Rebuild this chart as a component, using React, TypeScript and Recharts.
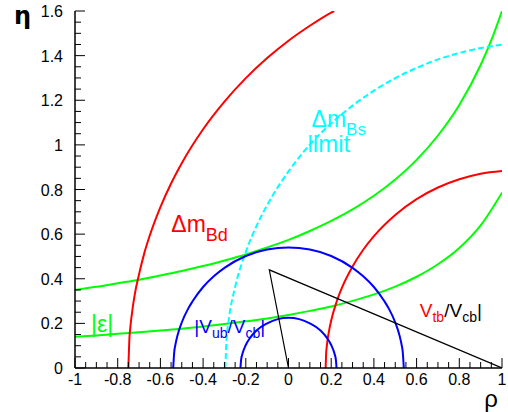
import React from 'react';
import { LineChart, Line, XAxis, YAxis, ReferenceDot } from 'recharts';

const FONT = "'Liberation Sans', Arial, Helvetica, sans-serif";

// Tick values and labels
const xMajorTicks = [-1, -0.8, -0.6, -0.4, -0.2, 0, 0.2, 0.4, 0.6, 0.8, 1];
const xTickLabels = ['-1', '-0.8', '-0.6', '-0.4', '-0.2', '0', '0.2', '0.4', '0.6', '0.8', '1'];
const yMajorTicks = [0, 0.2, 0.4, 0.6, 0.8, 1, 1.2, 1.4, 1.6];
const yTickLabels = ['0', '0.2', '0.4', '0.6', '0.8', '1', '1.2', '1.4', '1.6'];
const xTicks = Array.from({ length: 41 }, (_, i) => Math.round((-1 + i * 0.05) * 100) / 100);
const yTicks = Array.from({ length: 33 }, (_, i) => Math.round(i * 0.05 * 100) / 100);

// |epsilon| band (green)
const epsLower = [
  { x: -1, y: 0.14 }, { x: -0.9, y: 0.146 }, { x: -0.8, y: 0.153 }, { x: -0.7, y: 0.16 },
  { x: -0.6, y: 0.168 }, { x: -0.5, y: 0.176 }, { x: -0.4, y: 0.186 }, { x: -0.3, y: 0.197 },
  { x: -0.2, y: 0.209 }, { x: -0.1, y: 0.222 }, { x: 0, y: 0.238 }, { x: 0.1, y: 0.256 },
  { x: 0.2, y: 0.276 }, { x: 0.3, y: 0.301 }, { x: 0.4, y: 0.33 }, { x: 0.5, y: 0.365 },
  { x: 0.6, y: 0.409 }, { x: 0.7, y: 0.465 }, { x: 0.8, y: 0.538 }, { x: 0.9, y: 0.639 },
  { x: 1, y: 0.786 },
];
const epsUpper = [
  { x: -1, y: 0.35 }, { x: -0.9, y: 0.364 }, { x: -0.8, y: 0.38 }, { x: -0.7, y: 0.396 },
  { x: -0.6, y: 0.415 }, { x: -0.5, y: 0.435 }, { x: -0.4, y: 0.457 }, { x: -0.3, y: 0.482 },
  { x: -0.2, y: 0.509 }, { x: -0.1, y: 0.54 }, { x: 0, y: 0.574 }, { x: 0.1, y: 0.614 },
  { x: 0.2, y: 0.659 }, { x: 0.3, y: 0.711 }, { x: 0.4, y: 0.772 }, { x: 0.5, y: 0.845 },
  { x: 0.6, y: 0.933 }, { x: 0.7, y: 1.042 }, { x: 0.8, y: 1.179 }, { x: 0.9, y: 1.358 },
  { x: 0.95, y: 1.469 }, { x: 1, y: 1.6 },
];

// Delta m_Bd (red)
const dmBdOuter = [
  { x: -0.75, y: 0 }, { x: -0.745, y: 0.134 }, { x: -0.74, y: 0.19 }, { x: -0.73, y: 0.268 },
  { x: -0.72, y: 0.33 }, { x: -0.7, y: 0.42 }, { x: -0.675, y: 0.516 }, { x: -0.65, y: 0.593 },
  { x: -0.6, y: 0.721 }, { x: -0.55, y: 0.827 }, { x: -0.5, y: 0.918 }, { x: -0.4, y: 1.07 },
  { x: -0.3, y: 1.194 }, { x: -0.2, y: 1.299 }, { x: -0.1, y: 1.389 }, { x: 0, y: 1.467 },
  { x: 0.1, y: 1.534 }, { x: 0.2, y: 1.593 }, { x: 0.214, y: 1.6 },
];
const dmBdInner = [
  { x: 0.174, y: 0 }, { x: 0.176, y: 0.059 }, { x: 0.18, y: 0.103 }, { x: 0.19, y: 0.167 },
  { x: 0.2, y: 0.213 }, { x: 0.225, y: 0.296 }, { x: 0.25, y: 0.359 }, { x: 0.3, y: 0.455 },
  { x: 0.35, y: 0.53 }, { x: 0.4, y: 0.591 }, { x: 0.5, y: 0.686 }, { x: 0.6, y: 0.757 },
  { x: 0.7, y: 0.809 }, { x: 0.8, y: 0.846 }, { x: 0.9, y: 0.871 }, { x: 1, y: 0.883 },
];

// Delta m_Bs limit (cyan, dashed)
const dmBsLimit = [
  { x: -0.296, y: 0 }, { x: -0.29, y: 0.13 }, { x: -0.28, y: 0.215 }, { x: -0.25, y: 0.363 },
  { x: -0.2, y: 0.52 }, { x: -0.15, y: 0.636 }, { x: -0.1, y: 0.73 }, { x: 0, y: 0.881 },
  { x: 0.1, y: 1.001 }, { x: 0.2, y: 1.096 }, { x: 0.3, y: 1.176 }, { x: 0.4, y: 1.243 },
  { x: 0.5, y: 1.299 }, { x: 0.6, y: 1.345 }, { x: 0.7, y: 1.383 }, { x: 0.8, y: 1.412 },
  { x: 0.9, y: 1.434 }, { x: 1, y: 1.449 },
];

// |Vub/Vcb| (blue)
const vubOuter = [
  { x: -0.54, y: 0 }, { x: -0.535, y: 0.073 }, { x: -0.53, y: 0.103 }, { x: -0.52, y: 0.146 },
  { x: -0.5, y: 0.204 }, { x: -0.47, y: 0.266 }, { x: -0.45, y: 0.298 }, { x: -0.4, y: 0.363 },
  { x: -0.35, y: 0.411 }, { x: -0.3, y: 0.449 }, { x: -0.2, y: 0.502 }, { x: -0.1, y: 0.531 },
  { x: 0, y: 0.54 }, { x: 0.1, y: 0.531 }, { x: 0.2, y: 0.502 }, { x: 0.3, y: 0.449 },
  { x: 0.35, y: 0.411 }, { x: 0.4, y: 0.363 }, { x: 0.45, y: 0.298 }, { x: 0.47, y: 0.266 },
  { x: 0.5, y: 0.204 }, { x: 0.52, y: 0.146 }, { x: 0.53, y: 0.103 }, { x: 0.535, y: 0.073 },
  { x: 0.54, y: 0 },
];
const vubInner = [
  { x: -0.225, y: 0 }, { x: -0.222, y: 0.036 }, { x: -0.215, y: 0.066 }, { x: -0.2, y: 0.103 },
  { x: -0.18, y: 0.135 }, { x: -0.15, y: 0.168 }, { x: -0.1, y: 0.2 }, { x: -0.05, y: 0.219 },
  { x: 0, y: 0.225 }, { x: 0.05, y: 0.219 }, { x: 0.1, y: 0.2 }, { x: 0.15, y: 0.168 },
  { x: 0.18, y: 0.135 }, { x: 0.2, y: 0.103 }, { x: 0.215, y: 0.066 }, { x: 0.222, y: 0.036 },
  { x: 0.225, y: 0 },
];

// Unitarity triangle (black)
const triangle = [
  { x: 0, y: 0 }, { x: -0.09, y: 0.44 }, { x: 1, y: 0 },
];

// Label anchors (rho, eta)
const labelDmBd = { x: -0.549, y: 0.61 };
const labelDmBs = { x: 0.108, y: 1.081 };
const labelLimit = { x: 0.089, y: 0.969 };
const labelEps = { x: -0.925, y: 0.161 };
const labelVub = { x: -0.441, y: 0.157 };
const labelVtb = { x: 0.615, y: 0.229 };

const majorIndex = (list: number[], v: number) => list.findIndex((m) => Math.abs(m - v) < 1e-6);

const BottomTick = (props: any) => {
  const { x, y, payload } = props;
  const i = majorIndex(xMajorTicks, payload.value);
  const len = i >= 0 ? 10 : 6;
  return (
    <g>
      <line x1={x} y1={y} x2={x} y2={y - len} stroke="#000" strokeWidth={1} />
      {i >= 0 && (
        <text x={x} y={y + 17} textAnchor="middle" fontSize={16} fontFamily={FONT} fill="#000">
          {xTickLabels[i]}
        </text>
      )}
    </g>
  );
};
const TopTick = (props: any) => {
  const { x, y, payload } = props;
  const i = majorIndex(xMajorTicks, payload.value);
  const len = i >= 0 ? 9 : 5;
  return <line x1={x} y1={y} x2={x} y2={y + len} stroke="#000" strokeWidth={1} />;
};
const LeftTick = (props: any) => {
  const { x, y, payload } = props;
  const i = majorIndex(yMajorTicks, payload.value);
  const len = i >= 0 ? 10 : 6;
  return (
    <g>
      <line x1={x} y1={y} x2={x + len} y2={y} stroke="#000" strokeWidth={1} />
      {i >= 0 && (
        <text x={x - 12} y={y + 6} textAnchor="end" fontSize={16} fontFamily={FONT} fill="#000">
          {yTickLabels[i]}
        </text>
      )}
    </g>
  );
};
const RightTick = (props: any) => {
  const { x, y, payload } = props;
  const i = majorIndex(yMajorTicks, payload.value);
  const len = i >= 0 ? 9 : 5;
  return <line x1={x} y1={y} x2={x - len} y2={y} stroke="#000" strokeWidth={1} />;
};

const mkLabel = (render: (x: number, y: number) => React.ReactNode) => (props: any) => {
  const vb = props.viewBox || {};
  const x = (vb.x ?? 0) + (vb.width ?? 0) / 2;
  const y = (vb.y ?? 0) + (vb.height ?? 0) / 2;
  return <g>{render(x, y)}</g>;
};

const RED = '#ff0000';
const GREEN = '#00ff00';
const BLUE = '#0000ff';
const CYAN = '#00ffff';

export default function App() {
  const axisLine = { stroke: '#000', strokeWidth: 1.5 };
  return (
    <div style={{ position: 'absolute', left: 0, top: 0, background: '#fff' }}>
      <LineChart width={508} height={412} margin={{ top: 11, right: 6, left: 0, bottom: 0 }}>
        <XAxis
          type="number"
          dataKey="x"
          domain={[-1, 1]}
          ticks={xTicks}
          interval={0}
          height={44}
          allowDataOverflow
          tickLine={false}
          tickSize={0}
          tickMargin={0}
          axisLine={axisLine}
          tick={<BottomTick />}
          label={{
            content: (p: any) => {
              const vb = p.viewBox;
              return (
                <text x={vb.x + vb.width - 4} y={vb.y + 39} textAnchor="end" fontSize={24} fontFamily={FONT} fill="#000">
                  ρ
                </text>
              );
            },
          }}
        />
        <XAxis
          xAxisId="top"
          orientation="top"
          type="number"
          domain={[-1, 1]}
          ticks={xTicks}
          interval={0}
          height={0}
          allowDataOverflow
          tickLine={false}
          tickSize={0}
          tickMargin={0}
          axisLine={axisLine}
          tick={<TopTick />}
        />
        <YAxis
          type="number"
          domain={[0, 1.6]}
          ticks={yTicks}
          interval={0}
          width={75}
          allowDataOverflow
          tickLine={false}
          tickSize={0}
          tickMargin={0}
          axisLine={axisLine}
          tick={<LeftTick />}
          label={{
            content: (p: any) => {
              const vb = p.viewBox;
              return (
                <text x={vb.x + 14} y={vb.y + 13} fontSize={24} fontWeight="bold" fontFamily="'DejaVu Sans', sans-serif" fill="#000">
                  η
                </text>
              );
            },
          }}
        />
        <YAxis
          yAxisId="right"
          orientation="right"
          type="number"
          domain={[0, 1.6]}
          ticks={yTicks}
          interval={0}
          width={0}
          allowDataOverflow
          tickLine={false}
          tickSize={0}
          tickMargin={0}
          axisLine={axisLine}
          tick={<RightTick />}
        />

        <Line data={epsLower} dataKey="y" type="monotone" stroke={GREEN} strokeWidth={2} dot={false} isAnimationActive={false} />
        <Line data={epsUpper} dataKey="y" type="monotone" stroke={GREEN} strokeWidth={2} dot={false} isAnimationActive={false} />
        <Line data={dmBdOuter} dataKey="y" type="monotone" stroke={RED} strokeWidth={2} dot={false} isAnimationActive={false} />
        <Line data={dmBdInner} dataKey="y" type="monotone" stroke={RED} strokeWidth={2} dot={false} isAnimationActive={false} />
        <Line data={dmBsLimit} dataKey="y" type="monotone" stroke={CYAN} strokeWidth={2} strokeDasharray="6 3" dot={false} isAnimationActive={false} />
        <Line data={vubOuter} dataKey="y" type="monotone" stroke={BLUE} strokeWidth={2} dot={false} isAnimationActive={false} />
        <Line data={vubInner} dataKey="y" type="monotone" stroke={BLUE} strokeWidth={2} dot={false} isAnimationActive={false} />
        <Line data={triangle} dataKey="y" type="linear" stroke="#000" strokeWidth={1.2} dot={false} isAnimationActive={false} />

        <ReferenceDot
          x={labelDmBd.x}
          y={labelDmBd.y}
          r={0}
          fill="none"
          stroke="none"
          label={{
            content: mkLabel((x, y) => (
              <text x={x} y={y} fill={RED} fontSize={23} fontFamily={FONT}>
                Δm<tspan fontSize={18} dy={9}>Bd</tspan>
              </text>
            )),
          }}
        />
        <ReferenceDot
          x={labelDmBs.x}
          y={labelDmBs.y}
          r={0}
          fill="none"
          stroke="none"
          label={{
            content: mkLabel((x, y) => (
              <text x={x} y={y} fill={CYAN} fontSize={23} fontFamily={FONT}>
                Δm<tspan fontSize={17} dy={8}>Bs</tspan>
              </text>
            )),
          }}
        />
        <ReferenceDot
          x={labelLimit.x}
          y={labelLimit.y}
          r={0}
          fill="none"
          stroke="none"
          label={{
            content: mkLabel((x, y) => (
              <text x={x} y={y} fill={CYAN} fontSize={24} fontFamily={FONT}>
                limit
              </text>
            )),
          }}
        />
        <ReferenceDot
          x={labelEps.x}
          y={labelEps.y}
          r={0}
          fill="none"
          stroke="none"
          label={{
            content: mkLabel((x, y) => (
              <text x={x} y={y} fill={GREEN} fontSize={23} fontFamily={FONT}>
                |ε|
              </text>
            )),
          }}
        />
        <ReferenceDot
          x={labelVub.x}
          y={labelVub.y}
          r={0}
          fill="none"
          stroke="none"
          label={{
            content: mkLabel((x, y) => (
              <text x={x} y={y} fill={BLUE} fontSize={19} fontFamily={FONT}>
                |V<tspan fontSize={14} dy={5}>ub</tspan>
                <tspan dy={-5}>/V</tspan>
                <tspan fontSize={14} dy={5}>cb</tspan>
                <tspan dy={-5}>|</tspan>
              </text>
            )),
          }}
        />
        <ReferenceDot
          x={labelVtb.x}
          y={labelVtb.y}
          r={0}
          fill="none"
          stroke="none"
          label={{
            content: mkLabel((x, y) => (
              <text x={x} y={y} fill="#000" fontSize={19} fontFamily={FONT}>
                <tspan fill={RED}>V</tspan>
                <tspan fill={RED} fontSize={14} dy={5}>tb</tspan>
                <tspan dy={-5}>/V</tspan>
                <tspan fontSize={14} dy={5}>cb</tspan>
                <tspan dy={-5}>|</tspan>
              </text>
            )),
          }}
        />
      </LineChart>
    </div>
  );
}
